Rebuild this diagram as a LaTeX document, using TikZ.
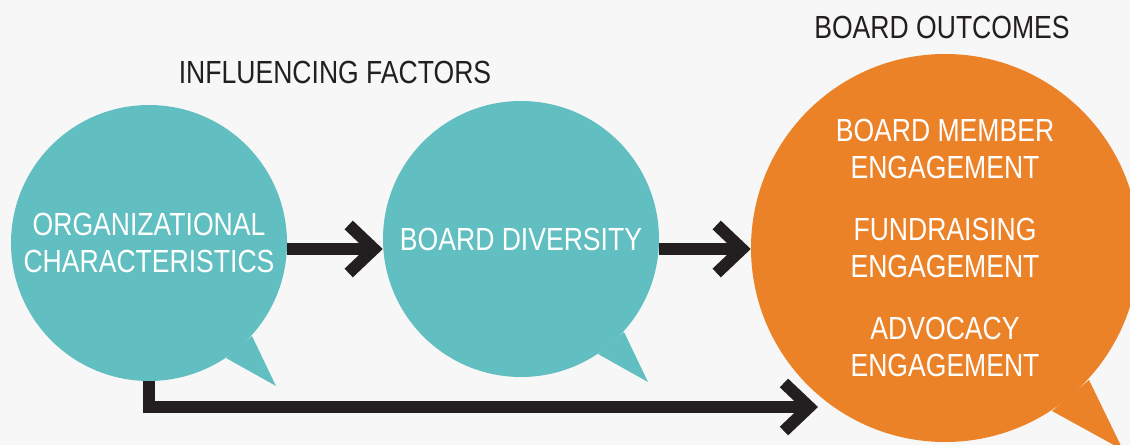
\documentclass[tikz,border=0pt]{standalone}
\usepackage{fontspec}
\setmainfont{Liberation Sans}[FakeStretch=0.83]
\usetikzlibrary{arrows.meta,positioning}

\definecolor{bubbleteal}{RGB}{98,191,193}
\definecolor{bubbleorange}{RGB}{236,130,40}
\definecolor{arrowblack}{RGB}{35,31,32}
\definecolor{paper}{RGB}{247,247,247}

\tikzset{
  bubble/.style={circle, fill=bubbleteal, draw=none, inner sep=0pt, minimum size=207pt,
    text=white, align=center, font=\fontsize{24}{27.75}\selectfont},
  bigbubble/.style={bubble, fill=bubbleorange, minimum size=291pt},
  heading/.style={text=arrowblack, inner sep=0pt, font=\fontsize{24}{27.75}\selectfont},
  flow/.style={draw=arrowblack, line width=9pt, line join=miter,
    -{Straight Barb[sharp,length=19pt,width=36pt]}},
}

\begin{document}
\begin{tikzpicture}[x=0.75pt,y=0.75pt,yscale=-1,xscale=1]
	\useasboundingbox (0,0) rectangle (1130,445);
	\fill[paper] (0,0) rectangle (1130,445);
	\clip (0,0) rectangle (1130,445);

	%Shape: Circle [org]
	\node[bubble] (org) at (149,243) {ORGANIZATIONAL\\CHARACTERISTICS};
	\fill[bubbleteal] ([shift={(103,93)}]org.center) -- ([shift={(127,143)}]org.center) -- ([shift={(77,115)}]org.center) -- cycle;
	%Shape: Circle [div]
	\node[bubble] (div) at (521,239) {BOARD DIVERSITY};
	\fill[bubbleteal] ([shift={(103,93)}]div.center) -- ([shift={(127,143)}]div.center) -- ([shift={(77,115)}]div.center) -- cycle;
	%Shape: Circle [out]
	\node[bigbubble] (out) at (945,248) {BOARD MEMBER\\ENGAGEMENT\\[18.5pt]FUNDRAISING\\ENGAGEMENT\\[18.5pt]ADVOCACY\\ENGAGEMENT};
	\fill[bubbleorange] ([shift={(144,132)}]out.center) -- ([shift={(178,202)}]out.center) -- ([shift={(107,163)}]out.center) -- cycle;

	% Text Node
	\node[heading] (inftitle) at (335,72) {INFLUENCING FACTORS};
	% Text Node
	\node[heading] (outtitle) at (942,27) {BOARD OUTCOMES};

	%Straight Lines [connectors]
	\coordinate (advend) at (818,407);
	\draw[flow] ([yshift=4.5pt]org.east) -- ([yshift=7.5pt]div.west);
	\draw[flow] ([yshift=7.5pt]div.east) -- ([yshift=0.75pt]out.west);
	\draw[flow] (org.south) |- (advend);

\end{tikzpicture}
\end{document}
